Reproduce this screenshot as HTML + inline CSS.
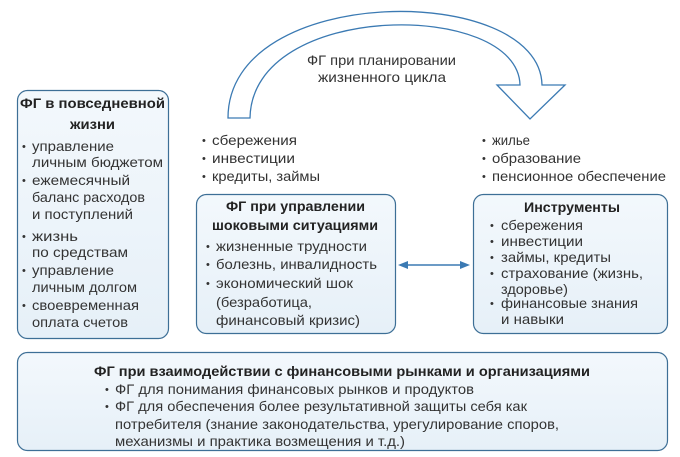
<!DOCTYPE html>
<html><head><meta charset="utf-8"><style>
html,body{margin:0;padding:0;background:#fff;width:680px;height:457px;overflow:hidden}
svg{display:block}
text{font-family:"Liberation Sans",sans-serif;font-size:14px;fill:#333}
.b{font-weight:bold;fill:#222}
.d{font-size:11px}
</style></head><body>
<svg width="680" height="457" viewBox="0 0 680 457" xmlns="http://www.w3.org/2000/svg">
<defs>
<linearGradient id="g" x1="0" y1="0" x2="0" y2="1"><stop offset="0" stop-color="#f3f8fc"/><stop offset="1" stop-color="#e6f0f8"/></linearGradient>
</defs>
<path d="M228,118 C228,-18 540,-18 542,85 L565,85 L530,119 L497,85 L520,85 C518,0 252,0 250,118 Z" fill="#fff" stroke="#3b7ab3" stroke-width="1.3"/>
<text x="307" y="65" textLength="149" lengthAdjust="spacingAndGlyphs">ФГ при планировании</text>
<text x="318" y="82" textLength="128" lengthAdjust="spacingAndGlyphs">жизненного цикла</text>

<rect x="17.5" y="90.5" width="151" height="248" rx="10" fill="url(#g)" stroke="#3d6f96" stroke-width="1.2"/>
<rect x="196.5" y="194.5" width="199" height="139" rx="10" fill="url(#g)" stroke="#3d6f96" stroke-width="1.2"/>
<rect x="473.5" y="194.5" width="194" height="139" rx="10" fill="url(#g)" stroke="#3d6f96" stroke-width="1.2"/>
<rect x="17.5" y="352.5" width="650" height="98" rx="10" fill="url(#g)" stroke="#3d6f96" stroke-width="1.2"/>

<line x1="406" y1="265" x2="462" y2="265" stroke="#3b7ab3" stroke-width="1.5"/>
<path d="M398,265 L408,261 L408,269 Z" fill="#3b7ab3"/>
<path d="M470,265 L460,261 L460,269 Z" fill="#3b7ab3"/>

<text class="b" x="20" y="108" textLength="145" lengthAdjust="spacingAndGlyphs">ФГ в повседневной</text>
<text class="b" x="70" y="129" textLength="45" lengthAdjust="spacingAndGlyphs">жизни</text>
<text class="d" x="22" y="150">•</text><text x="32" y="151" textLength="82" lengthAdjust="spacingAndGlyphs">управление</text>
<text x="32" y="167" textLength="131" lengthAdjust="spacingAndGlyphs">личным бюджетом</text>
<text class="d" x="22" y="184">•</text><text x="32" y="185" textLength="98" lengthAdjust="spacingAndGlyphs">ежемесячный</text>
<text x="32" y="202" textLength="113" lengthAdjust="spacingAndGlyphs">баланс расходов</text>
<text x="32" y="219" textLength="101" lengthAdjust="spacingAndGlyphs">и поступлений</text>
<text class="d" x="22" y="240">•</text><text x="32" y="241" textLength="46" lengthAdjust="spacingAndGlyphs">жизнь</text>
<text x="32" y="257" textLength="96" lengthAdjust="spacingAndGlyphs">по средствам</text>
<text class="d" x="22" y="274">•</text><text x="32" y="275" textLength="82" lengthAdjust="spacingAndGlyphs">управление</text>
<text x="32" y="292" textLength="105" lengthAdjust="spacingAndGlyphs">личным долгом</text>
<text class="d" x="22" y="309">•</text><text x="32" y="310" textLength="107" lengthAdjust="spacingAndGlyphs">своевременная</text>
<text x="32" y="327" textLength="96" lengthAdjust="spacingAndGlyphs">оплата счетов</text>

<text class="d" x="202" y="144">•</text><text x="212" y="145" textLength="85" lengthAdjust="spacingAndGlyphs">сбережения</text>
<text class="d" x="202" y="162">•</text><text x="212" y="163" textLength="83" lengthAdjust="spacingAndGlyphs">инвестиции</text>
<text class="d" x="202" y="180">•</text><text x="212" y="181" textLength="108" lengthAdjust="spacingAndGlyphs">кредиты, займы</text>
<text class="d" x="482" y="144">•</text><text x="492" y="145" textLength="38" lengthAdjust="spacingAndGlyphs">жилье</text>
<text class="d" x="482" y="162">•</text><text x="492" y="163" textLength="89" lengthAdjust="spacingAndGlyphs">образование</text>
<text class="d" x="482" y="180">•</text><text x="492" y="181" textLength="174" lengthAdjust="spacingAndGlyphs">пенсионное обеспечение</text>

<text class="b" x="226" y="211" textLength="139" lengthAdjust="spacingAndGlyphs">ФГ при управлении</text>
<text class="b" x="212" y="230" textLength="166" lengthAdjust="spacingAndGlyphs">шоковыми ситуациями</text>
<text class="d" x="206" y="250">•</text><text x="216" y="251" textLength="151" lengthAdjust="spacingAndGlyphs">жизненные трудности</text>
<text class="d" x="206" y="268">•</text><text x="216" y="269" textLength="161" lengthAdjust="spacingAndGlyphs">болезнь, инвалидность</text>
<text class="d" x="206" y="287">•</text><text x="216" y="288" textLength="137" lengthAdjust="spacingAndGlyphs">экономический шок</text>
<text x="216" y="307" textLength="96" lengthAdjust="spacingAndGlyphs">(безработица,</text>
<text x="216" y="325" textLength="144" lengthAdjust="spacingAndGlyphs">финансовый кризис)</text>

<text class="b" x="524" y="212" textLength="96" lengthAdjust="spacingAndGlyphs">Инструменты</text>
<text class="d" x="490" y="229">•</text><text x="501" y="230" textLength="82" lengthAdjust="spacingAndGlyphs">сбережения</text>
<text class="d" x="490" y="245">•</text><text x="501" y="246" textLength="82" lengthAdjust="spacingAndGlyphs">инвестиции</text>
<text class="d" x="490" y="261">•</text><text x="501" y="262" textLength="110" lengthAdjust="spacingAndGlyphs">займы, кредиты</text>
<text class="d" x="490" y="277">•</text><text x="501" y="278" textLength="142" lengthAdjust="spacingAndGlyphs">страхование (жизнь,</text>
<text x="501" y="294" textLength="67" lengthAdjust="spacingAndGlyphs">здоровье)</text>
<text class="d" x="490" y="307">•</text><text x="501" y="308" textLength="137" lengthAdjust="spacingAndGlyphs">финансовые знания</text>
<text x="501" y="324" textLength="63" lengthAdjust="spacingAndGlyphs">и навыки</text>

<text class="b" x="94" y="376" textLength="496" lengthAdjust="spacingAndGlyphs">ФГ при взаимодействии с финансовыми рынками и организациями</text>
<text class="d" x="105" y="393">•</text><text x="115" y="394" textLength="359" lengthAdjust="spacingAndGlyphs">ФГ для понимания финансовых рынков и продуктов</text>
<text class="d" x="105" y="410">•</text><text x="115" y="411" textLength="412" lengthAdjust="spacingAndGlyphs">ФГ для обеспечения более результативной защиты себя как</text>
<text x="115" y="429" textLength="444" lengthAdjust="spacingAndGlyphs">потребителя (знание законодательства, урегулирование споров,</text>
<text x="115" y="446" textLength="290" lengthAdjust="spacingAndGlyphs">механизмы и практика возмещения и т.д.)</text>
</svg>
</body></html>
